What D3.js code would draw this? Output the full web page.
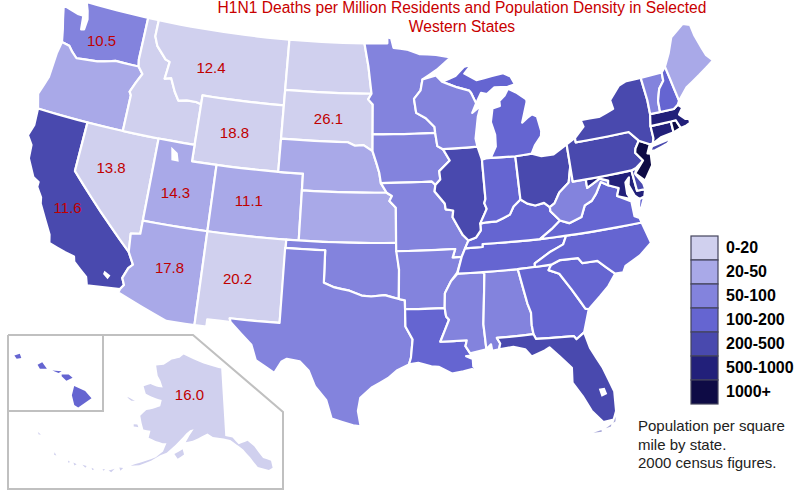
<!DOCTYPE html>
<html>
<head>
<meta charset="utf-8">
<script src="https://cdn.jsdelivr.net/npm/d3@7"></script>
<style>
  html, body { margin: 0; padding: 0; background: #fff; }
  text { font-family: "Liberation Sans", Arial, sans-serif; }
</style>
</head>
<body>
<svg id="map" width="804" height="499"></svg>
<script>
var titleLines = ['H1N1 Deaths per Million Residents and Population Density in Selected', 'Western States'];
var noteLines = ['Population per square', 'mile by state.', '2000 census figures.'];

var bandLabels = ['0-20', '20-50', '50-100', '100-200', '200-500', '500-1000', '1000+'];
var bandColors = ['#d0d0ee', '#a9a9e8', '#8383dd', '#6565d1', '#4949ae', '#22207a', '#0e0b45'];

var densityByState = {
  WA: '50-100', OR: '20-50', CA: '200-500', NV: '0-20', ID: '0-20', MT: '0-20', WY: '0-20',
  UT: '20-50', CO: '20-50', AZ: '20-50', NM: '0-20', ND: '0-20', SD: '0-20', NE: '20-50',
  KS: '20-50', OK: '50-100', TX: '50-100', MN: '50-100', IA: '50-100', MO: '50-100',
  AR: '50-100', LA: '100-200', MS: '50-100', AL: '50-100', TN: '100-200', KY: '100-200',
  IL: '200-500', IN: '100-200', OH: '200-500', MI: '100-200', WI: '50-100', GA: '100-200',
  FL: '200-500', SC: '100-200', NC: '100-200', VA: '100-200', WV: '50-100', MD: '500-1000',
  DE: '200-500', PA: '200-500', NJ: '1000+', NY: '200-500', CT: '500-1000', RI: '1000+',
  MA: '500-1000', VT: '50-100', NH: '100-200', ME: '20-50', AK: '0-20', HI: '100-200'
};

// H1N1 deaths per million, western states only
var deathStates = ['WA', 'MT', 'SD', 'WY', 'NV', 'UT', 'CO', 'CA', 'AZ', 'NM', 'AK'];
var deathRates = ['10.5', '12.4', '26.1', '18.8', '13.8', '14.3', '11.1', '11.6', '17.8', '20.2', '16.0'];
var deathAnchors = [[-120.6, 46.98], [-110.7, 46.75], [-100.2, 44.4], [-107.95, 43.05], [-117.3, 39.7],
  [-111.95, 39], [-106.15, 39.1], [-119.85, 36.8], [-111.45, 34.5], [-106.37, 34.4], [-152.3, 65.9]];

// state outlines, lon/lat
var stateOutlines = {
  WA: [[[-124.7,48.4],[-123.2,48.15],[-122.75,48.15],[-122.6,47.3],[-122.35,47.35],[-122.3,48],[-122.5,48.5],[-122.8,49],[-117.03,49],[-117.03,46.4],[-116.92,45.99],[-118.98,46],[-119.3,45.93],[-120.5,45.7],[-121.2,45.65],[-122.3,45.55],[-122.8,45.85],[-123.2,46.15],[-123.9,46.25],[-124.05,46.7],[-124.15,47],[-124.4,47.6]]],
  OR: [[[-123.9,46.25],[-123.2,46.15],[-122.8,45.85],[-122.3,45.55],[-121.2,45.65],[-120.5,45.7],[-119.3,45.93],[-118.98,46],[-116.92,45.99],[-116.46,45.6],[-116.85,45],[-117.2,44.4],[-117.03,44.2],[-117.03,42],[-124.2,42],[-124.55,42.85],[-124.1,44],[-124.05,45.5]]],
  CA: [[[-124.2,42],[-120,42],[-120,39],[-114.63,35],[-114.14,34.3],[-114.43,34.05],[-114.72,33.4],[-114.5,33],[-114.72,32.72],[-117.12,32.53],[-117.3,33],[-118.4,33.74],[-118.5,34.03],[-119.2,34.15],[-120.5,34.45],[-120.65,34.95],[-121.9,36.6],[-122,36.96],[-122.5,37.5],[-122.5,37.8],[-123,38],[-123.75,39],[-123.85,39.8],[-124.35,40.3],[-124.1,41]]],
  NV: [[[-120,42],[-114.04,42],[-114.04,36.2],[-114.75,36.1],[-114.63,35],[-120,39]]],
  ID: [[[-117.03,49],[-116.05,49],[-116.05,48],[-115.7,47.45],[-114.75,46.75],[-114.35,46.65],[-114.5,45.6],[-113.95,45.7],[-113.45,44.95],[-113,44.45],[-112.3,44.55],[-111.5,44.55],[-111.05,44.47],[-111.05,42],[-117.03,42],[-117.03,44.2],[-117.2,44.4],[-116.85,45],[-116.46,45.6],[-116.92,45.99],[-117.03,46.4]]],
  MT: [[[-116.05,49],[-104.05,49],[-104.05,45],[-111.05,45],[-111.05,44.47],[-111.5,44.55],[-112.3,44.55],[-113,44.45],[-113.45,44.95],[-113.95,45.7],[-114.5,45.6],[-114.35,46.65],[-114.75,46.75],[-115.7,47.45],[-116.05,48]]],
  WY: [[[-111.05,45],[-104.05,45],[-104.05,41],[-111.05,41]]],
  UT: [[[-114.04,42],[-111.05,42],[-111.05,41],[-109.05,41],[-109.05,37],[-114.04,37]]],
  CO: [[[-109.05,41],[-102.05,41],[-102.05,37],[-109.05,37]]],
  AZ: [[[-114.04,37],[-109.05,37],[-109.05,31.33],[-111.07,31.33],[-114.8,32.5],[-114.72,32.72],[-114.5,33],[-114.72,33.4],[-114.43,34.05],[-114.14,34.3],[-114.63,35],[-114.75,36.1],[-114.04,36.2]]],
  NM: [[[-109.05,37],[-103,37],[-103.04,32],[-106.62,32],[-106.53,31.78],[-108.2,31.78],[-108.2,31.33],[-109.05,31.33]]],
  ND: [[[-104.05,49],[-97.23,49],[-96.85,47.6],[-96.56,45.94],[-104.05,45.94]]],
  SD: [[[-104.05,45.94],[-96.56,45.94],[-96.85,45.6],[-96.45,45.3],[-96.45,42.49],[-97.2,42.85],[-97.9,42.8],[-98.5,43],[-104.05,43]]],
  NE: [[[-104.05,43],[-98.5,43],[-97.9,42.8],[-97.2,42.85],[-96.45,42.49],[-96.1,41.7],[-95.9,41.2],[-95.77,40.58],[-95.31,40],[-102.05,40],[-102.05,41],[-104.05,41]]],
  KS: [[[-102.05,40],[-95.31,40],[-94.9,39.8],[-95.1,39.5],[-94.6,39.1],[-94.62,37],[-102.05,37]]],
  OK: [[[-103,37],[-94.62,37],[-94.43,35.4],[-94.48,33.64],[-95.5,33.88],[-96.5,33.8],[-97.2,33.85],[-98.1,34.13],[-99.2,34.3],[-100,34.56],[-100,36.5],[-103,36.5]]],
  TX: [[[-103.04,36.5],[-100,36.5],[-100,34.56],[-99.2,34.3],[-98.1,34.13],[-97.2,33.85],[-96.5,33.8],[-95.5,33.88],[-94.48,33.64],[-94.04,33.55],[-94.04,31.99],[-93.55,31.2],[-93.7,30.1],[-93.85,29.7],[-94.7,29.35],[-95.3,28.9],[-96.4,28.35],[-97.2,27.7],[-97.35,26.9],[-97.15,25.96],[-97.65,26.02],[-99.1,26.4],[-99.5,27.5],[-100.3,28.3],[-100.8,29.25],[-101.45,29.77],[-102.35,29.88],[-102.7,29.7],[-103.15,28.98],[-104.5,29.65],[-104.9,30.55],[-106.53,31.78],[-106.62,32],[-103.04,32]]],
  MN: [[[-97.23,49],[-95.15,49],[-95.15,49.38],[-94.8,49.3],[-94.6,48.72],[-93.4,48.6],[-92.3,48.3],[-90.8,48.2],[-89.5,48],[-90.8,47.3],[-92.1,46.75],[-92.3,46.1],[-92.9,45.6],[-92.75,44.75],[-91.95,44.4],[-91.25,43.85],[-91.22,43.5],[-96.45,43.5],[-96.45,45.3],[-96.85,45.6],[-96.56,45.94],[-96.85,47.6]]],
  IA: [[[-96.45,43.5],[-91.22,43.5],[-91.1,42.7],[-90.65,42.5],[-90.15,41.8],[-91.05,41.2],[-91,40.7],[-91.42,40.38],[-91.7,40.6],[-95.77,40.58],[-95.9,41.2],[-96.1,41.7],[-96.45,42.49]]],
  MO: [[[-95.77,40.58],[-91.7,40.6],[-91.42,40.38],[-91.5,40],[-90.75,39.25],[-90.7,38.9],[-90.12,38.8],[-90.2,38.4],[-89.5,37.3],[-89.1,36.95],[-89.4,36.5],[-89.7,36],[-90.38,36],[-90.15,36.5],[-94.62,36.5],[-94.62,37],[-94.6,39.1],[-95.1,39.5],[-94.9,39.8],[-95.31,40]]],
  AR: [[[-94.62,36.5],[-90.15,36.5],[-90.38,36],[-89.7,36],[-90.1,35.1],[-90.6,34.6],[-91.1,33.9],[-91.17,33],[-94.04,33.02],[-94.04,33.55],[-94.48,33.64],[-94.43,35.4]]],
  LA: [[[-94.04,33.02],[-91.17,33],[-91.1,32.5],[-90.9,32.3],[-91.6,31],[-89.73,31],[-89.85,30.65],[-89.55,30.2],[-89.4,30.05],[-89.85,30.05],[-89.4,29.85],[-89.4,29.4],[-89.05,29.1],[-89.5,29.25],[-90.1,29.15],[-90.9,29.05],[-91.8,29.5],[-92.3,29.55],[-93.2,29.78],[-93.85,29.7],[-93.7,30.1],[-93.55,31.2],[-94.04,31.99]]],
  MS: [[[-90.1,35.02],[-88.2,35],[-88.1,34.9],[-88.47,31.9],[-88.4,30.37],[-89.55,30.2],[-89.85,30.65],[-89.73,31],[-91.6,31],[-90.9,32.3],[-91.1,32.5],[-91.17,33],[-91.1,33.9],[-90.6,34.6]]],
  AL: [[[-88.2,35],[-85.6,34.98],[-85.18,32.87],[-85,32.3],[-85.05,31.55],[-85,31],[-87.6,31],[-87.4,30.65],[-87.52,30.3],[-88,30.25],[-88.05,30.65],[-88.4,30.37],[-88.47,31.9],[-88.1,34.9]]],
  TN: [[[-90.1,35.02],[-89.7,36],[-89.4,36.5],[-88.07,36.5],[-88.05,36.68],[-83.68,36.6],[-81.68,36.59],[-82,36.1],[-83.1,35.75],[-84.3,35.2],[-84.32,34.99],[-85.6,34.98],[-88.2,35]]],
  KY: [[[-89.4,36.5],[-89.1,36.95],[-88.5,37.1],[-88.1,37.5],[-88.1,37.9],[-87.6,37.95],[-86.8,37.95],[-86.3,38.1],[-85.75,38.27],[-85.4,38.73],[-84.8,39.1],[-84.3,38.8],[-83.7,38.63],[-83,38.72],[-82.6,38.42],[-82.6,38.17],[-81.97,37.54],[-82.7,37.1],[-83.68,36.6],[-88.05,36.68],[-88.07,36.5]]],
  IL: [[[-90.65,42.5],[-87.8,42.5],[-87.53,41.7],[-87.53,39.35],[-87.65,39.1],[-87.5,38.75],[-88.1,37.9],[-88.1,37.5],[-88.5,37.1],[-89.1,36.95],[-89.5,37.3],[-90.2,38.4],[-90.12,38.8],[-90.7,38.9],[-90.75,39.25],[-91.5,40],[-91.42,40.38],[-91,40.7],[-91.05,41.2],[-90.15,41.8]]],
  IN: [[[-87.53,41.7],[-87.2,41.75],[-86.8,41.76],[-84.8,41.7],[-84.8,39.1],[-85.4,38.73],[-85.75,38.27],[-86.3,38.1],[-86.8,37.95],[-87.6,37.95],[-88.1,37.9],[-87.5,38.75],[-87.65,39.1],[-87.53,39.35]]],
  OH: [[[-84.8,41.7],[-83.45,41.73],[-82.7,41.5],[-81.7,41.5],[-80.52,41.98],[-80.52,40.64],[-80.85,39.7],[-81.7,39.2],[-82.2,38.6],[-82.6,38.42],[-83,38.72],[-83.7,38.63],[-84.3,38.8],[-84.8,39.1]]],
  MI: [[[-86.8,41.76],[-84.8,41.7],[-83.45,41.73],[-83.1,42.2],[-82.5,42.7],[-82.42,43],[-82.6,43.9],[-83,44.07],[-83.4,43.9],[-83.9,43.65],[-83.3,44.85],[-83.3,45],[-84.1,45.5],[-84.75,45.78],[-85.1,45.4],[-85.6,45.1],[-85.6,44.8],[-86.25,44.7],[-86.5,43.9],[-86.25,43.1],[-86.3,42.4]],
       [[-90.4,46.55],[-89.2,46.85],[-88.4,47.35],[-87.75,47.45],[-88.4,46.95],[-87.4,46.5],[-86,46.65],[-85,46.75],[-84.4,46.5],[-84.1,46],[-84.75,45.9],[-85.9,45.95],[-86.6,45.6],[-87.1,45.7],[-87.6,45.1],[-87.95,45.75],[-88.1,45.9],[-89.1,46.15]]],
  WI: [[[-92.1,46.75],[-90.9,46.95],[-90.4,46.55],[-89.1,46.15],[-88.1,45.9],[-87.95,45.75],[-87.6,45.1],[-88,44.55],[-87.4,44.85],[-87.05,45.25],[-87.55,44.3],[-87.9,43],[-87.8,42.5],[-90.65,42.5],[-91.1,42.7],[-91.22,43.5],[-91.25,43.85],[-91.95,44.4],[-92.75,44.75],[-92.9,45.6],[-92.3,46.1]]],
  GA: [[[-85.6,34.98],[-83.1,35],[-83.35,34.7],[-82.6,34.4],[-81.9,33.4],[-81.4,32.6],[-81.1,32.1],[-80.87,32.03],[-81.45,30.7],[-82.05,30.36],[-82.2,30.57],[-84.86,30.7],[-85,31],[-85.05,31.55],[-85,32.3],[-85.18,32.87]]],
  FL: [[[-87.6,31],[-85,31],[-84.86,30.7],[-82.2,30.57],[-82.05,30.36],[-81.45,30.7],[-81.2,29.7],[-80.55,28.4],[-80.05,26.9],[-80.15,25.7],[-80.4,25.2],[-81.1,25.15],[-81.75,25.95],[-82.2,26.9],[-82.75,27.8],[-82.65,28.7],[-83.4,29.5],[-84,30.1],[-84.35,29.95],[-85.3,29.68],[-85.7,30.15],[-86.5,30.38],[-87.52,30.3],[-87.4,30.65]]],
  SC: [[[-83.35,34.7],[-83.1,35],[-82.4,35.2],[-81.05,35.15],[-80.8,34.82],[-79.67,34.8],[-78.55,33.86],[-79.2,33.2],[-79.9,32.7],[-80.87,32.03],[-81.1,32.1],[-81.4,32.6],[-81.9,33.4],[-82.6,34.4]]],
  NC: [[[-84.32,34.99],[-84.3,35.2],[-83.1,35.75],[-82,36.1],[-81.68,36.59],[-75.87,36.55],[-75.5,35.25],[-76.5,34.65],[-77.7,34.2],[-77.95,33.85],[-78.55,33.86],[-79.67,34.8],[-80.8,34.82],[-81.05,35.15],[-82.4,35.2],[-83.1,35]]],
  VA: [[[-83.68,36.6],[-82.7,37.1],[-81.97,37.54],[-81.3,37.3],[-80.3,37.55],[-79.9,38.2],[-79.3,38.4],[-78.87,38.77],[-78.35,39.4],[-77.83,39.13],[-77.05,38.85],[-77.3,38.4],[-76.3,37.9],[-76.3,37],[-75.95,36.85],[-75.87,36.55],[-81.68,36.59]],
       [[-75.95,37.15],[-75.65,37.95],[-75.25,38.03],[-75.6,37.5]]],
  WV: [[[-82.6,38.17],[-82.6,38.42],[-82.2,38.6],[-81.7,39.2],[-80.85,39.7],[-80.52,40.64],[-80.52,39.72],[-79.48,39.72],[-79.48,39.2],[-78.4,39.62],[-77.75,39.4],[-77.83,39.13],[-78.35,39.4],[-78.87,38.77],[-79.3,38.4],[-79.9,38.2],[-80.3,37.55],[-81.3,37.3],[-81.97,37.54]]],
  MD: [[[-79.48,39.72],[-75.79,39.72],[-75.7,38.46],[-75.05,38.45],[-75.25,38.03],[-75.65,37.95],[-75.95,38.2],[-76.25,38.9],[-76.1,39.35],[-76.45,39.1],[-76.5,38.4],[-76.3,38.05],[-77.3,38.4],[-77.05,38.85],[-77.83,39.13],[-77.75,39.4],[-78.4,39.62],[-79.48,39.2]]],
  DE: [[[-75.79,39.72],[-75.4,39.8],[-75.55,39.45],[-75.1,38.8],[-75.05,38.45],[-75.7,38.46]]],
  PA: [[[-80.52,41.98],[-79.76,42.27],[-79.76,42],[-75.35,42],[-74.7,41.36],[-75.1,40.95],[-75.2,40.7],[-74.72,40.15],[-75.4,39.8],[-75.79,39.72],[-80.52,39.72]]],
  NJ: [[[-74.7,41.36],[-73.9,41],[-74.25,40.5],[-74,40.45],[-74.1,39.75],[-74.9,38.95],[-75.55,39.5],[-74.72,40.15],[-75.2,40.7],[-75.1,40.95]]],
  NY: [[[-79.76,42],[-79.76,42.27],[-78.9,42.85],[-79.05,43.27],[-77.5,43.25],[-76.2,43.55],[-76.3,44.1],[-75.3,44.85],[-74.7,45],[-73.35,45],[-73.25,43.6],[-73.3,42.75],[-73.5,42.05],[-73.5,41.3],[-73.65,41],[-73.9,41],[-74.7,41.36],[-75.35,42]],
       [[-74,40.6],[-73.75,40.85],[-72.6,40.98],[-72,41.1],[-72.5,40.8],[-73.6,40.58]]],
  CT: [[[-73.5,42.05],[-71.8,42.02],[-71.8,41.35],[-72.9,41.25],[-73.65,41],[-73.5,41.3]]],
  RI: [[[-71.8,42.02],[-71.38,42.02],[-71.15,41.5],[-71.8,41.35]]],
  MA: [[[-73.5,42.05],[-73.3,42.75],[-71.3,42.7],[-70.9,42.88],[-70.6,42.65],[-71,42.3],[-70.6,41.95],[-70.3,41.9],[-70.3,41.65],[-70.65,41.55],[-71.15,41.5],[-71.38,42.02],[-71.8,42.02]]],
  VT: [[[-73.35,45],[-71.5,45.01],[-71.55,44.5],[-72.05,44.1],[-72.4,43.4],[-72.46,42.73],[-73.3,42.75],[-73.25,43.6]]],
  NH: [[[-71.5,45.01],[-71.1,45.3],[-70.7,43.1],[-70.9,42.88],[-71.3,42.7],[-72.46,42.73],[-72.4,43.4],[-72.05,44.1],[-71.55,44.5]]],
  ME: [[[-71.1,45.3],[-70.5,46],[-69.9,46.9],[-68.6,47.5],[-68,47.3],[-67.9,46.6],[-67.6,45.7],[-67.45,45.3],[-67,44.85],[-68.5,44.25],[-69.8,43.75],[-70.7,43.1]]],
  AK: [[[-141,69.65],[-144,70],[-148,70.4],[-152,70.85],[-156.6,71.35],[-158,70.8],[-161,70.3],[-163.5,69.3],[-166.2,68.9],[-164.5,67.6],[-163,67],[-161.7,66.2],[-163.8,66.1],[-166,66.2],[-168,65.6],[-166.5,64.7],[-163,64.5],[-161,64.5],[-161,63.6],[-163,63],[-164.8,62.6],[-166,61.6],[-165,60.7],[-164,59.9],[-162,60],[-162,59],[-160,58.8],[-158,58.7],[-157,58.8],[-157.5,57.6],[-159,56.6],[-161,55.9],[-163.5,55],[-164.5,54.6],[-162.5,55],[-160,56],[-158,57],[-156.5,57.5],[-154.5,58.8],[-153.5,59.5],[-152,60.5],[-151,61],[-150,61.2],[-151,60.3],[-151.9,59.3],[-150,59.6],[-148.5,60],[-146,60.7],[-144.5,60.2],[-141.5,59.95],[-139.7,59.7],[-137.5,58.7],[-136.5,58.2],[-135,57],[-133.5,55.5],[-131,54.8],[-130,55],[-130,56],[-131.8,56.6],[-133.5,58.4],[-135,59.3],[-137.5,59],[-139,60],[-141,60.3]],
       [[-154.5,57.5],[-152.5,58.3],[-152,57.6],[-153.5,56.9]],
       [[-171.7,63.4],[-169,63.3],[-170,63.1],[-171,63.25]],
       [[-167,60.2],[-166,60.3],[-165.5,60],[-166.8,59.9]],
       [[-166.9,53.9],[-166,54],[-166.4,53.5]],
       [[-169,53],[-167.8,53.5],[-168.3,52.9]],
       [[-170.4,52.9],[-169.8,52.95],[-170.1,52.7]],
       [[-172.8,52.45],[-172.1,52.4],[-172.5,52.2]],
       [[-175,52.3],[-174,52.4],[-174.1,52.1]],
       [[-177,52],[-176.2,52],[-176.5,51.7]],
       [[-178.3,51.9],[-177.7,51.85],[-178,51.65]],
       [[178.2,51.95],[178.9,51.7],[178.4,51.6]],
       [[172.5,52.95],[173.4,52.95],[173,52.75]]],
  HI: [[[-155.9,20.25],[-155.2,19.95],[-154.8,19.5],[-155.65,18.95],[-155.9,19.1],[-156.05,19.7]],
       [[-156.7,20.95],[-156.25,20.95],[-156,20.75],[-156.4,20.58],[-156.7,20.85]],
       [[-157.3,21.2],[-156.7,21.15],[-156.9,21.05]],
       [[-158.25,21.55],[-157.95,21.7],[-157.65,21.3],[-158.1,21.3]],
       [[-159.75,22.1],[-159.4,22.2],[-159.3,21.95],[-159.6,21.9]]]
};

var floridaKeys = [
  [[-81.85,24.6],[-81.3,24.7],[-81.3,24.58]],
  [[-81,24.75],[-80.6,24.95],[-80.65,24.82]],
  [[-80.45,25.02],[-80.25,25.35],[-80.3,25.08]]
];

// Great Salt Lake, Salton Sea, Okeechobee
var lakes = [
  [[-112.9,41.65],[-112.3,41.35],[-112.1,40.85],[-112.7,40.85]],
  [[-116.1,33.6],[-115.6,33.4],[-115.75,33.15],[-116.15,33.4]],
  [[-81.05,27.2],[-80.65,27.2],[-80.55,26.8],[-80.95,26.7]]
];

var insetLines = [
  [[8, 335], [193, 335], [283, 412], [283, 489], [8, 489], [8, 335]],
  [[103, 335], [103, 411], [8, 411]]
];

var svg = d3.select('#map');
var colorScale = d3.scaleOrdinal().domain(bandLabels).range(bandColors);

var lower48 = d3.geoConicEqualArea().parallels([29.5, 45.5]).rotate([96, 0]).center([0, 37])
  .scale(950).translate([378, 243]);
var alaska = d3.geoConicEqualArea().parallels([55, 65]).rotate([145, 0]).center([0, 62])
  .scale(414).translate([211, 424]);
var hawaii = d3.geoConicEqualArea().parallels([8, 18]).rotate([157, 0]).center([0, 20.5])
  .scale(950).translate([57, 382]);

function projectionFor(code) {
  if (code === 'AK') return alaska;
  if (code === 'HI') return hawaii;
  return lower48;
}

// split long edges so that straight lon/lat borders follow the parallels
function tessellate(ring) {
  var out = [];
  ring.forEach(function (pt, i) {
    var next = ring[(i + 1) % ring.length];
    var steps = Math.max(1, Math.ceil(Math.max(Math.abs(next[0] - pt[0]), Math.abs(next[1] - pt[1]))));
    for (var s = 0; s < steps; s++) {
      out.push([pt[0] + (next[0] - pt[0]) * s / steps, pt[1] + (next[1] - pt[1]) * s / steps]);
    }
  });
  out.push(ring[0]);
  return out;
}

function toFeature(rings) {
  var coordinates = rings.map(function (ring) {
    var closed = tessellate(ring);
    if (d3.geoArea({ type: 'Polygon', coordinates: [closed] }) > 2 * Math.PI) closed.reverse();
    return [closed];
  });
  return { type: 'MultiPolygon', coordinates: coordinates };
}

var stateCodes = Object.keys(stateOutlines);

svg.append('g')
  .selectAll('path')
  .data(stateCodes)
  .enter()
  .append('path')
  .attr('d', function (code) {
    return d3.geoPath(projectionFor(code))(toFeature(stateOutlines[code]));
  })
  .attr('fill', function (code) { return colorScale(densityByState[code]); })
  .attr('stroke', function (code) { return code === 'AK' || code === 'HI' ? 'none' : '#fff'; })
  .attr('stroke-width', 2.2)
  .attr('stroke-linejoin', 'round');

svg.append('path')
  .attr('d', d3.geoPath(lower48)(toFeature(floridaKeys)))
  .attr('fill', colorScale(densityByState.FL))
  .attr('opacity', 0.5);

svg.append('path')
  .attr('d', d3.geoPath(lower48)(toFeature(lakes)))
  .attr('fill', '#fff');

svg.append('g')
  .selectAll('path')
  .data(insetLines)
  .enter()
  .append('path')
  .attr('d', d3.line())
  .attr('fill', 'none')
  .attr('stroke', '#c0c0c0')
  .attr('stroke-width', 2);

svg.append('g')
  .selectAll('text')
  .data(deathStates)
  .enter()
  .append('text')
  .attr('transform', function (code, i) {
    var pt = projectionFor(code)(deathAnchors[i]);
    return 'translate(' + pt[0] + ',' + pt[1] + ')';
  })
  .attr('dy', '0.36em')
  .attr('text-anchor', 'middle')
  .attr('font-size', 15)
  .attr('fill', '#c00000')
  .text(function (code, i) { return deathRates[i]; });

svg.append('g')
  .selectAll('text')
  .data(titleLines)
  .enter()
  .append('text')
  .attr('x', 462)
  .attr('y', function (d, i) { return 13 + i * 19; })
  .attr('text-anchor', 'middle')
  .attr('font-size', 15.6)
  .attr('fill', '#c80000')
  .text(function (d) { return d; });

var legendY = d3.scaleBand().domain(bandLabels).range([236, 404]);
var legend = svg.append('g');

legend.selectAll('rect')
  .data(bandLabels)
  .enter()
  .append('rect')
  .attr('x', 691)
  .attr('y', function (d) { return legendY(d); })
  .attr('width', 27)
  .attr('height', legendY.bandwidth())
  .attr('fill', function (d) { return colorScale(d); })
  .attr('stroke', '#44445c')
  .attr('stroke-width', 1.2);

legend.selectAll('text')
  .data(bandLabels)
  .enter()
  .append('text')
  .attr('x', 726)
  .attr('y', function (d) { return legendY(d) + 17; })
  .attr('font-size', 16)
  .attr('font-weight', 'bold')
  .attr('fill', '#000')
  .text(function (d) { return d; });

svg.append('g')
  .selectAll('text')
  .data(noteLines)
  .enter()
  .append('text')
  .attr('x', 638)
  .attr('y', function (d, i) { return 431 + i * 18.5; })
  .attr('font-size', 15)
  .attr('fill', '#222')
  .text(function (d) { return d; });
</script>
</body>
</html>
